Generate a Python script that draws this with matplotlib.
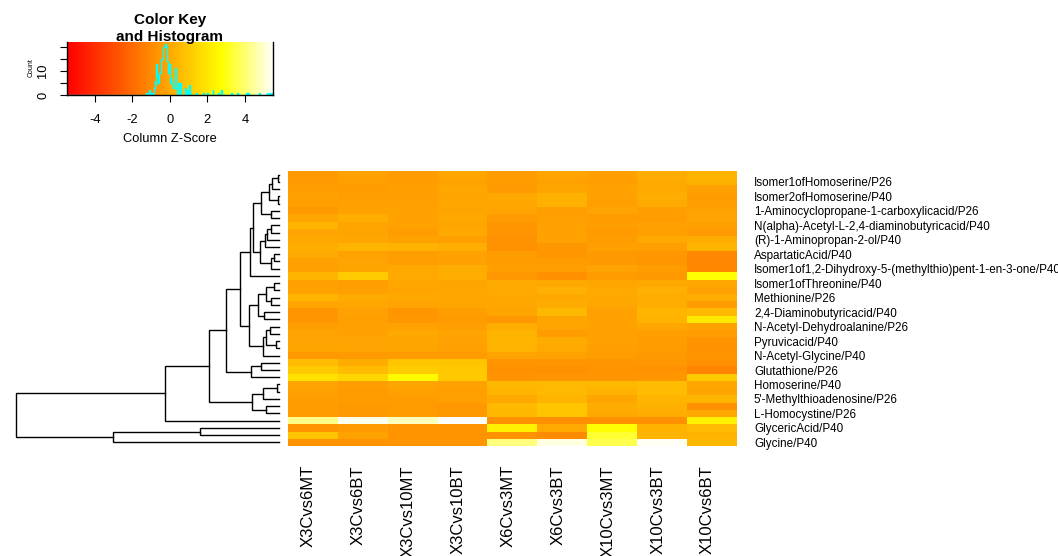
import matplotlib
matplotlib.use("Agg")
import matplotlib.pyplot as plt
import numpy as np
from matplotlib.colors import ListedColormap, Normalize, hsv_to_rgb
from matplotlib.transforms import ScaledTranslation

plt.rcParams['font.family'] = ['Liberation Sans', 'DejaVu Sans']
plt.rcParams['axes.unicode_minus'] = False

W, H = 1058, 556

col_labels = ['X3Cvs6MT', 'X3Cvs6BT', 'X3Cvs10MT', 'X3Cvs10BT', 'X6Cvs3MT',
              'X6Cvs3BT', 'X10Cvs3MT', 'X10Cvs3BT', 'X10Cvs6BT']

# only every second row gets a printed name (the others overlap)
row_labels = [
    'Isomer1ofHomoserine/P26',
    'Isomer2ofHomoserine/P40',
    '1-Aminocyclopropane-1-carboxylicacid/P26',
    'N(alpha)-Acetyl-L-2,4-diaminobutyricacid/P40',
    '(R)-1-Aminopropan-2-ol/P40',
    'AspartaticAcid/P40',
    'Isomer1of1,2-Dihydroxy-5-(methylthio)pent-1-en-3-one/P40',
    'Isomer1ofThreonine/P40',
    'Methionine/P26',
    '2,4-Diaminobutyricacid/P40',
    'N-Acetyl-Dehydroalanine/P26',
    'Pyruvicacid/P40',
    'N-Acetyl-Glycine/P40',
    'Glutathione/P26',
    'Homoserine/P40',
    "5'-Methylthioadenosine/P26",
    'L-Homocystine/P26',
    'GlycericAcid/P40',
    'Glycine/P40',
]

# column z-scores, rows in dendrogram order (top to bottom)
zscores = np.array([
    [-0.52, -0.27, -0.45, -0.16, -0.41, -0.18, -0.33, 0.09, 0.31],
    [-0.49, -0.31, -0.39, -0.22, -0.44, -0.24, -0.37, 0.02, 0.22],
    [-0.36, -0.40, -0.32, -0.12, -0.48, -0.14, -0.25, -0.03, -0.29],
    [-0.25, -0.35, -0.38, -0.20, -0.07, 0.25, -0.28, 0.11, -0.42],
    [-0.32, -0.28, -0.34, -0.10, -0.11, 0.21, -0.31, 0.04, -0.38],
    [-0.55, -0.23, -0.25, -0.15, -0.19, -0.36, -0.21, -0.35, -0.26],
    [-0.17, 0.14, -0.23, -0.08, -0.51, -0.33, -0.41, -0.39, -0.21],
    [0.38, -0.19, -0.25, -0.13, -0.66, -0.29, -0.36, -0.24, -0.31],
    [-0.21, -0.15, -0.42, -0.02, -0.73, -0.25, -0.49, -0.33, -0.50],
    [-0.05, -0.10, -0.22, -0.32, -0.75, -0.27, -0.44, -0.07, 0.07],
    [0.14, 0.33, 0.30, 0.12, -0.80, -0.57, -0.34, -0.37, 0.34],
    [0.00, -0.26, -0.37, -0.24, -0.46, -0.62, -0.53, -0.59, -1.10],
    [-0.29, -0.21, -0.35, -0.27, -0.43, -0.40, -0.55, -0.63, -1.13],
    [-0.34, -0.16, -0.06, 0.06, -0.32, -0.38, -0.20, -0.46, -1.08],
    [0.31, 1.05, -0.01, 0.13, -0.59, -0.79, -0.42, -0.54, 2.75],
    [-0.25, -0.38, -0.12, -0.14, 0.00, -0.05, -0.11, -0.04, -0.09],
    [-0.23, -0.33, -0.19, -0.09, -0.02, 0.18, -0.06, 0.19, -0.28],
    [0.37, 0.01, -0.08, -0.11, -0.04, -0.08, -0.03, 0.06, 0.11],
    [-0.18, -0.12, -0.20, -0.13, -0.09, 0.07, -0.10, 0.13, -0.47],
    [-0.67, -0.30, -0.63, -0.36, -0.17, 0.45, -0.26, 0.31, 0.48],
    [-0.65, -0.32, -0.58, -0.39, -0.56, -0.15, -0.29, 0.26, 2.00],
    [-0.37, -0.24, -0.28, -0.31, 0.12, -0.20, -0.23, -0.12, -0.25],
    [-0.19, -0.27, -0.04, -0.21, 0.31, -0.47, -0.30, -0.34, -0.43],
    [-0.20, -0.18, -0.13, -0.29, 0.32, 0.06, -0.24, -0.41, -0.72],
    [-0.16, -0.20, -0.16, -0.34, 0.30, -0.01, -0.35, -0.40, -0.74],
    [-0.50, -0.48, -0.44, -0.45, -0.20, -0.24, -0.47, -0.52, -0.71],
    [0.56, 0.07, 0.94, 0.82, -0.71, -0.66, -0.62, -0.56, -0.79],
    [1.07, 0.57, 1.08, 0.95, -0.85, -0.78, -0.72, -0.74, -1.24],
    [1.80, 1.45, 2.60, 1.06, -0.73, -0.67, -0.68, -0.64, 1.04],
    [-0.18, -0.37, -0.17, -0.26, 0.47, 0.48, 0.46, 0.57, -0.11],
    [-0.27, -0.39, -0.25, -0.31, 0.32, 0.50, 0.30, 0.58, -0.16],
    [-0.35, -0.46, -0.40, -0.33, -0.04, 0.31, -0.15, 0.32, 0.38],
    [-0.47, -0.53, -0.48, -0.56, 0.49, 0.93, 0.06, 0.25, -0.85],
    [-0.42, -0.52, -0.46, -0.55, 0.47, 0.83, -0.02, 0.11, -0.03],
    [4.20, 5.30, 4.80, 5.50, -0.84, -0.86, -0.79, -0.80, 2.30],
    [-0.71, -0.49, -0.73, -0.72, 2.30, -0.04, 2.75, 0.30, 0.56],
    [0.82, -0.22, -0.71, -0.70, -0.74, -0.98, 3.27, 0.31, 0.29],
    [-0.73, -0.70, -0.66, -0.67, 4.10, 5.17, 3.60, 5.38, 0.47],
])

# row clustering: (a, b, height); ids < 38 are rows, 38+ are earlier merges
row_merges = [
    (0, 1, 0.7), (38, 2, 6.7), (3, 4, 1.0), (39, 40, 10.0), (5, 6, 8.3),
    (41, 42, 17.7), (7, 8, 8.3), (44, 9, 11.7), (45, 10, 14.3), (11, 12, 5.3),
    (47, 13, 7.7), (46, 48, 18.7), (43, 49, 26.0), (50, 14, 29.3),
    (15, 16, 5.3), (17, 18, 7.7), (52, 53, 12.7), (19, 20, 15.0),
    (54, 55, 21.0), (21, 22, 8.7), (23, 24, 2.7), (57, 58, 12.7),
    (59, 25, 16.0), (56, 60, 30.3), (51, 61, 38.7), (26, 27, 17.7),
    (63, 28, 27.7), (62, 64, 53.3), (29, 30, 1.7), (66, 31, 16.0),
    (32, 33, 12.7), (67, 68, 27.0), (65, 69, 70.0), (70, 34, 114.3),
    (35, 36, 79.3), (72, 37, 166.0), (71, 73, 263.7),
]


def heat_colors(n):
    # same ramp as R's heat.colors()
    j = n // 4
    i = n - j
    warm = hsv_to_rgb(np.column_stack([np.linspace(0, 1 / 6, i), np.ones(i), np.ones(i)]))
    sat = np.linspace(1 - 1 / (2 * j), 1 / (2 * j), j)
    pale = hsv_to_rgb(np.column_stack([np.full(j, 1 / 6), sat, np.ones(j)]))
    return ListedColormap(np.vstack([warm, pale]))


def px_axes(fig, x0, y0, x1, y1):
    return fig.add_axes([x0 / W, 1 - y1 / H, (x1 - x0) / W, (y1 - y0) / H])


n_rows, n_cols = zscores.shape
ncol = 256
cmap = heat_colors(ncol)
lim = np.abs(zscores).max()
norm = Normalize(-lim, lim)

fig = plt.figure(figsize=(W / 100, H / 100), dpi=100)

# heatmap
ax = px_axes(fig, 288, 171, 737, 446)
ax.imshow(zscores, cmap=cmap, norm=norm, aspect='auto', interpolation='nearest',
          extent=(0, n_cols, n_rows, 0))
for s in ax.spines.values():
    s.set_visible(False)
ax.set_xticks(np.arange(n_cols) + 0.5)
ax.set_xticklabels(col_labels, rotation=90)
ax.tick_params(axis='x', length=0, pad=13.7, labelsize=12)
shift = ScaledTranslation(-4.5 / 100, 0, fig.dpi_scale_trans)
for lab in ax.get_xticklabels():
    lab.set_transform(lab.get_transform() + shift)
ax.yaxis.tick_right()
ax.set_yticks(np.arange(n_rows)[1::2] + 0.5)
ax.set_yticklabels(row_labels)
ax.tick_params(axis='y', length=0, pad=12.2, labelsize=8.4)

# row dendrogram
axd = px_axes(fig, 16, 171, 279, 446)
pos = {i: (i + 0.5, 0.0) for i in range(n_rows)}
for k, (a, b, h) in enumerate(row_merges):
    ya, ha = pos[a]
    yb, hb = pos[b]
    axd.plot([ha, h, h, hb], [ya, ya, yb, yb], color='black', lw=1.0,
             solid_joinstyle='miter', clip_on=False)
    pos[n_rows + k] = ((ya + yb) / 2, h)
axd.set_xlim(row_merges[-1][2], 0)
axd.set_ylim(n_rows, 0)
axd.axis('off')

# colour key with histogram
axk = px_axes(fig, 66.7, 41.7, 273, 95)
axk.imshow(np.linspace(-lim, lim, 512)[None, :], cmap=cmap, norm=norm, aspect='auto',
           interpolation='nearest', extent=(-lim, lim, 0, 1))
counts, edges = np.histogram(zscores.ravel(), bins=np.linspace(-lim, lim, ncol + 1))
hy = np.append(counts, counts[-1])
axk.step(edges, hy / hy.max() * 0.95, where='post', color='cyan', lw=1.0, zorder=2)
axk.set_xlim(-lim, lim)
axk.set_ylim(0, 1)
axk.spines['top'].set_visible(False)
for side in ('left', 'bottom', 'right'):
    axk.spines[side].set_linewidth(1.0)
    axk.spines[side].set_zorder(3)
xt = np.arange(-4, 5, 2)
axk.set_xticks(xt)
axk.set_xticklabels([str(v) for v in xt])
yt = np.arange(0, hy.max() + 1, 5)
axk.set_yticks(yt / hy.max() * 0.95)
axk.set_yticklabels([str(v) if v % 10 == 0 and v < yt[-1] else '' for v in yt],
                    rotation=90, va='center')
axk.tick_params(length=5, width=0.8, labelsize=9.3)
axk.tick_params(axis='x', pad=9)
axk.tick_params(axis='y', pad=7.5)

fig.text(170 / W, 1 - 28.8 / H, 'Color Key\nand Histogram', ha='center', va='center',
         fontsize=11, fontweight='bold', linespacing=1.24)
fig.text(170 / W, 1 - 139 / H, 'Column Z-Score', ha='center', va='center', fontsize=9.3)
fig.text(31 / W, 1 - 68 / H, 'Count', ha='center', va='center', rotation=90, fontsize=5)

fig.savefig('out.png', dpi=100)
